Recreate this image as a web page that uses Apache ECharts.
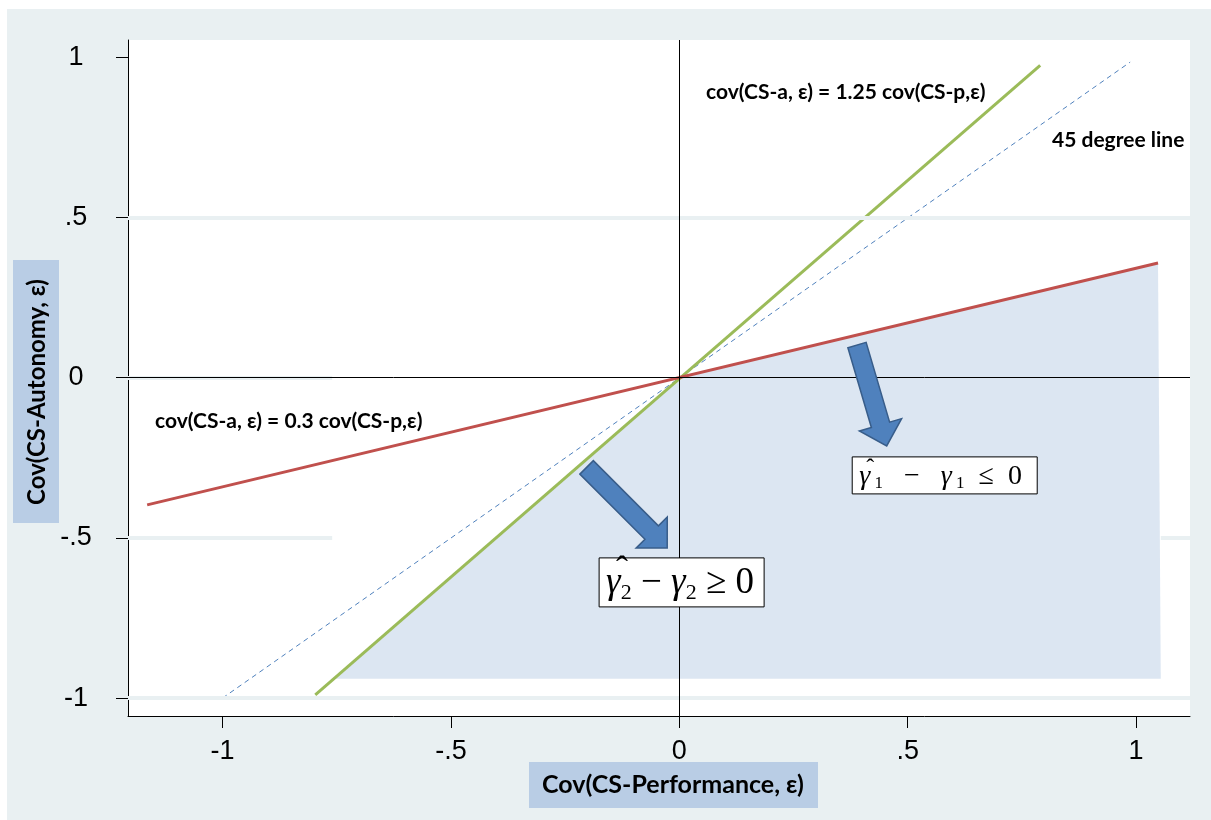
<!DOCTYPE html>
<html><head><meta charset="utf-8">
<script src="https://cdn.jsdelivr.net/npm/echarts@6/dist/echarts.min.js"></script>
<style>html,body{margin:0;padding:0;background:#fff}#c{width:1211px;height:820px}</style>
</head><body><div id="c"></div>
<script>
// ---- data ----
const tickValues = [-1, -0.5, 0, 0.5, 1];
const tickLabels = ['-1', '-.5', '0', '.5', '1'];
const xMin = -1.207, xMax = 1.118, yMin = -1.056, yMax = 1.054;
// faint horizontal grid bands: [y, xStart, xEnd]
const gridBands = [[0.5, -1.207, 1.118], [0, -1.207, -0.76], [-0.5, -1.207, -0.76], [-0.5, 1.054, 1.118], [-1, -1.207, 1.118]];
const line45X = [-1.0, 0.987];
const line45Y = [-1.0, 0.985];
const greenX = [-0.797, 0.79];
const greenY = [-0.99, 0.975];
const redX = [-1.165, 1.048];
const redY = [-0.397, 0.358];
const shadeX = [0, 1.048, 1.054, -0.753];
const shadeY = [0, 0.358, -0.94, -0.94];
const arrowTails = [[-0.203, -0.280], [0.389, 0.102]];
const arrowTips = [[-0.0265, -0.532], [0.454, -0.213]];
const formulaCenters = [[0.005, -0.639], [0.581, -0.305]];
const formulaTexts = [
  '{g|γ}{s|2}{o| − }{g|γ}{s|2}{o| ≥ 0}',
  '{g|γ}{s| 1}{o|   −   }{g|γ}{s| 1}{o|  ≤  0}'
];
const annotationTexts = ['cov(CS-a, ε) = 1.25 cov(CS-p,ε)', '45 degree line', 'cov(CS-a, ε) = 0.3 cov(CS-p,ε)'];
const xTitle = 'Cov(CS-Performance, ε)';
const yTitle = 'Cov(CS-Autonomy, ε)';

const zip = (a, b) => a.map((v, i) => [v, b[i]]);
const fmt = v => { const i = tickValues.findIndex(t => Math.abs(t - v) < 1e-9); return i >= 0 ? tickLabels[i] : String(v); };

function arrowPts(p0, p1) {
  const dx = p1[0] - p0[0], dy = p1[1] - p0[1];
  const L = Math.hypot(dx, dy), ux = dx / L, uy = dy / L, nx = -uy, ny = ux;
  const hs = 9.5, hh = 22, hl = 22;
  const bx = p1[0] - ux * hl, by = p1[1] - uy * hl;
  return [[p0[0] + nx * hs, p0[1] + ny * hs], [bx + nx * hs, by + ny * hs], [bx + nx * hh, by + ny * hh],
          [p1[0], p1[1]], [bx - nx * hh, by - ny * hh], [bx - nx * hs, by - ny * hs], [p0[0] - nx * hs, p0[1] - ny * hs]];
}

// box width, height, font size, text left padding, hat dx, hat dy, hat size
const boxSizes = [[165, 49, 37, 7, 16, -11, 36], [185, 37, 28, 7, 11, -7, 24]];

const chart = echarts.init(document.getElementById('c'), null, {renderer: 'canvas'});
const axisCommon = {
  type: 'value',
  axisLine: {show: true, onZero: false, lineStyle: {color: '#000', width: 1}},
  axisTick: {show: true, inside: false, length: 12, customValues: tickValues, lineStyle: {color: '#000', width: 1}},
  axisLabel: {customValues: tickValues, formatter: fmt, color: '#000', fontFamily: 'Liberation Sans', fontSize: 27},
  splitLine: {show: false}
};
const bold = sz => 'bold ' + sz + 'px Lato';
chart.setOption({
  animation: false,
  backgroundColor: '#fff',
  grid: {left: 128, right: 21, top: 40, bottom: 104},
  xAxis: Object.assign({}, axisCommon, {min: xMin, max: xMax,
    axisLabel: Object.assign({}, axisCommon.axisLabel, {margin: 22})}),
  yAxis: Object.assign({}, axisCommon, {min: yMin, max: yMax,
    axisLabel: Object.assign({}, axisCommon.axisLabel, {margin: 52, align: 'center'})}),
  graphic: [
    {type: 'rect', z: -10, silent: true, shape: {x: 7, y: 9, width: 1204, height: 811}, style: {fill: '#e9f0f2'}},
    {type: 'rect', z: -9, silent: true, shape: {x: 128, y: 40, width: 1062, height: 676}, style: {fill: '#fff'}},
    {type: 'rect', z: 5, shape: {x: 13, y: 260, width: 46, height: 263}, style: {fill: '#b9cde5'}},
    {type: 'text', z: 6, x: 37, y: 392, rotation: Math.PI / 2,
      style: {text: yTitle, font: bold(24), fill: '#000', align: 'center', verticalAlign: 'middle'}},
    {type: 'rect', z: 5, shape: {x: 529, y: 762, width: 289, height: 46}, style: {fill: '#b9cde5'}},
    {type: 'text', z: 6, x: 673, y: 785,
      style: {text: xTitle, font: bold(25), fill: '#000', align: 'center', verticalAlign: 'middle'}},
    {type: 'text', z: 6, x: 706, y: 92,
      style: {text: annotationTexts[0], font: bold(21), fill: '#000', align: 'left', verticalAlign: 'middle'}},
    {type: 'text', z: 6, x: 1052, y: 140,
      style: {text: annotationTexts[1], font: bold(21), fill: '#000', align: 'left', verticalAlign: 'middle'}},
    {type: 'text', z: 6, x: 155, y: 421,
      style: {text: annotationTexts[2], font: bold(21), fill: '#000', align: 'left', verticalAlign: 'middle'}}
  ],
  series: [
    {type: 'line', data: [], z: 1, silent: true,
      markLine: {silent: true, symbol: ['none', 'none'], label: {show: false},
        lineStyle: {color: '#e9f0f2', width: 4, type: 'solid'},
        data: gridBands.map(b => [{coord: [b[1], b[0]]}, {coord: [b[2], b[0]]}])}},
    {type: 'custom', z: 2, silent: true, data: [[shadeX[0], shadeY[0]]],
      renderItem: (params, api) => ({
        type: 'polygon',
        shape: {points: shadeX.map((x, i) => api.coord([x, shadeY[i]]))},
        style: {fill: '#dce6f2'}
      })},
    {type: 'line', data: [], z: 3, silent: true,
      markLine: {silent: true, symbol: ['none', 'none'], label: {show: false},
        lineStyle: {color: '#000', width: 1, type: 'solid'},
        data: [{xAxis: 0}, {yAxis: 0}]}},
    {type: 'line', z: 4, symbol: 'none', data: zip(line45X, line45Y),
      lineStyle: {color: '#4f81bd', width: 1, type: [5, 4]}},
    {type: 'line', z: 4, symbol: 'none', data: zip(greenX, greenY),
      lineStyle: {color: '#9bbb59', width: 3}},
    {type: 'line', z: 4, symbol: 'none', data: zip(redX, redY),
      lineStyle: {color: '#c0504d', width: 3}},
    {type: 'custom', z: 6, silent: true,
      data: arrowTails.map((t, i) => [t[0], t[1], arrowTips[i][0], arrowTips[i][1]]),
      encode: {x: [0, 2], y: [1, 3]},
      renderItem: (params, api) => ({
        type: 'polygon',
        shape: {points: arrowPts(api.coord([api.value(0), api.value(1)]), api.coord([api.value(2), api.value(3)]))},
        style: {fill: '#4f81bd', stroke: '#385d8a', lineWidth: 1.5}
      })},
    {type: 'custom', z: 7, silent: true,
      data: formulaCenters.map((c, i) => [c[0], c[1], i]),
      encode: {x: 0, y: 1},
      renderItem: (params, api) => {
        const i = api.value(2);
        const p = api.coord([api.value(0), api.value(1)]);
        const [w, h, fs, pad, hdx, hdy, hsz] = boxSizes[i];
        const left = p[0] - w / 2;
        return {type: 'group', children: [
          {type: 'rect', shape: {x: left, y: p[1] - h / 2, width: w, height: h},
            style: {fill: '#fff', stroke: '#000', lineWidth: 1}},
          {type: 'text', x: left + pad, y: p[1] + 1, style: {
            text: formulaTexts[i], align: 'left', verticalAlign: 'middle',
            rich: {
              g: {fontFamily: 'Liberation Serif', fontStyle: 'italic', fontSize: fs, fill: '#000', lineHeight: fs * 1.15},
              s: {fontFamily: 'Liberation Serif', fontSize: Math.round(fs * 0.6), fill: '#000', verticalAlign: 'bottom', lineHeight: fs * 1.15},
              o: {fontFamily: 'Liberation Serif', fontSize: fs, fill: '#000', lineHeight: fs * 1.15}
            }}},
          {type: 'text', x: left + pad + hdx, y: p[1] + hdy, style: {
            text: 'ˆ', align: 'center', verticalAlign: 'middle',
            fontFamily: 'Liberation Serif', fontSize: hsz, fill: '#000'}}
        ]};
      }}
  ]
});
</script></body></html>
